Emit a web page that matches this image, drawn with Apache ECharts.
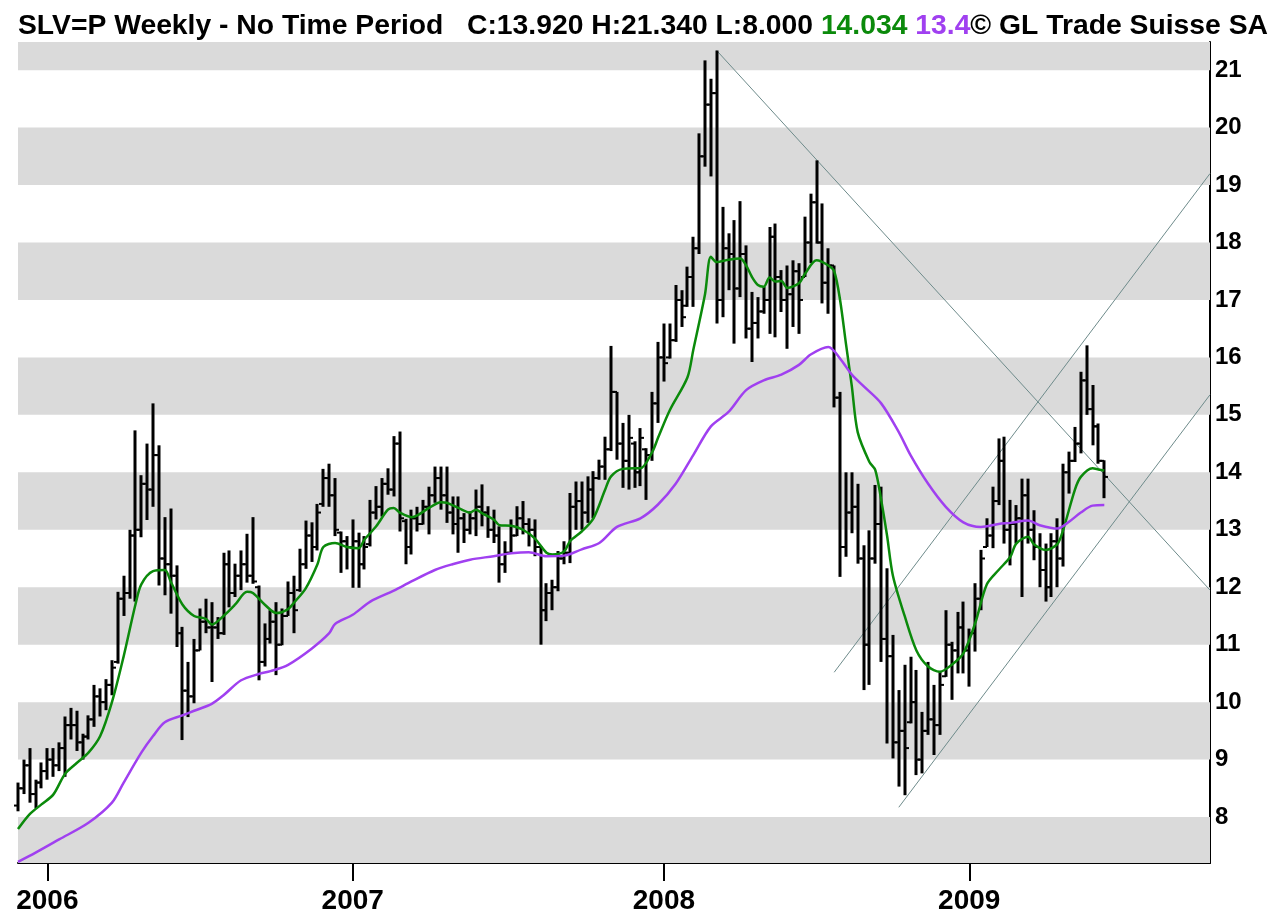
<!DOCTYPE html>
<html>
<head>
<meta charset="utf-8">
<script src="https://cdn.jsdelivr.net/npm/echarts@6/dist/echarts.min.js"></script>
<style>
  html, body { margin: 0; padding: 0; background: #fff; }
  #chart { width: 1276px; height: 915px; }
</style>
</head>
<body>
<div id="chart"></div>
<script>
// weekly bars, first week 2005-11-28, axis runs on to Oct 2009 for the trend lines
const firstWeek = '2005-11-28';
const weekSlots = 204;

const opens = [
  8.2, 8.5, 8.9, 8.4, 8.6, 8.8, 9.0, 8.9, 9.2, 9.6,
  9.6, 9.3, 9.4, 9.7, 10.1, 10.0, 10.3, 10.7, 11.8, 11.9,
  12.9, 13.0, 13.8, 13.7, 14.3, 12.5, 12.4, 12.2, 11.2, 10.2,
  10.1, 10.9, 11.4, 11.3, 11.3, 11.2, 12.4, 11.9, 12.2, 12.4,
  12.2, 12.0, 10.7, 11.1, 11.4, 11.0, 11.5, 11.9, 11.95, 12.4,
  12.9, 12.7, 13.45, 13.9, 13.6, 12.95, 12.8, 12.7, 12.8, 12.4,
  12.75, 13.3, 13.4, 13.8, 13.7, 14.5, 13.15, 12.7, 13.2, 13.1,
  13.4, 13.6, 13.9, 13.6, 13.3, 13.1, 13.2, 13.0, 13.2, 13.4,
  13.3, 13.0, 12.9, 12.4, 12.6, 12.9, 13.2, 13.1, 13.0, 12.7,
  11.6, 11.9, 12.0, 12.5, 12.6, 13.4, 13.5, 13.3, 13.7, 13.9,
  14.1, 14.4, 15.4, 14.5, 14.2, 14.5, 14.0, 14.4, 14.3, 15.2,
  16.0, 16.0, 16.3, 17.0, 16.9, 17.4, 17.9, 19.5, 20.4, 20.6,
  17.0, 17.9, 17.8, 17.2, 17.8, 16.5, 16.6, 16.8, 17.0, 18.1,
  17.4, 17.0, 17.1, 17.5, 17.4, 18.0, 18.7, 18.0, 17.3, 17.6,
  15.3, 12.7, 13.3, 13.4, 12.5, 11.0, 12.5, 13.1, 11.1, 10.8,
  9.3, 9.5, 9.65, 10.0, 9.0, 9.5, 9.7, 9.6, 10.45, 11.0,
  10.9, 11.3, 10.9, 11.2, 11.8, 12.7, 12.9, 13.5, 14.2, 13.0,
  13.1, 13.2, 13.6, 13.0, 12.7, 12.3, 12.0, 12.8, 12.5, 14.0,
  14.2, 14.5, 15.6, 15.1, 14.8, 14.2
];
const highs = [
  8.6, 9.0, 9.2, 8.65, 8.95, 9.2, 9.2, 9.3, 9.75, 9.9,
  9.85, 9.45, 9.77, 10.3, 10.24, 10.4, 10.73, 11.92, 12.2, 13.0,
  14.73, 13.95, 14.5, 15.2, 14.47, 13.22, 13.37, 12.38, 11.31, 10.7,
  11.1, 11.63, 11.8, 11.74, 11.48, 12.6, 12.64, 12.41, 12.64, 12.93,
  13.22, 12.03, 11.37, 11.6, 11.74, 11.63, 12.1, 12.2, 12.67, 13.16,
  13.13, 13.45, 14.06, 14.15, 13.9, 12.97, 12.89, 13.18, 12.95, 12.89,
  13.52, 13.76, 13.9, 14.07, 14.63, 14.71, 13.19, 13.35, 13.4, 13.52,
  13.75, 14.1, 14.1, 14.1, 13.58, 13.58, 13.29, 13.32, 13.7, 13.79,
  13.41, 13.35, 13.06, 12.8, 13.18, 13.41, 13.5, 13.2, 13.18, 12.71,
  12.07, 12.13, 12.63, 12.8, 13.64, 13.84, 13.84, 13.93, 14.02, 14.22,
  14.62, 16.2, 15.4, 14.86, 15.0, 14.54, 14.77, 14.42, 15.4, 16.27,
  16.59, 16.59, 17.26, 17.17, 17.58, 18.1, 19.9, 21.17, 20.85, 21.34,
  18.62, 18.16, 18.39, 18.72, 17.95, 17.14, 17.05, 17.23, 18.27, 18.33,
  17.52, 17.6, 17.69, 17.64, 18.45, 18.85, 19.43, 18.68, 17.9, 17.6,
  15.4, 14.0, 14.0, 13.8, 12.73, 12.99, 13.78, 13.75, 12.33, 11.17,
  10.21, 10.65, 10.79, 10.56, 9.83, 10.7, 10.3, 10.53, 11.6, 11.05,
  11.57, 11.75, 11.28, 12.07, 12.65, 13.2, 13.75, 14.59, 14.62, 13.52,
  13.43, 13.89, 13.89, 13.34, 12.94, 12.76, 12.94, 13.2, 14.15, 14.36,
  14.79, 15.75, 16.21, 15.52, 14.85, 14.21
];
const lows = [
  8.1, 8.4, 8.25, 8.15, 8.5, 8.65, 8.7, 8.8, 8.7, 9.35,
  9.15, 9.0, 9.35, 9.57, 9.75, 9.86, 10.12, 10.67, 11.5, 11.8,
  11.75, 12.87, 13.17, 13.4, 12.03, 11.86, 11.54, 10.96, 9.34, 9.74,
  9.98, 10.9, 11.2, 10.35, 11.1, 11.17, 11.65, 11.83, 11.95, 12.08,
  12.06, 10.38, 10.62, 11.02, 10.47, 10.99, 11.5, 11.2, 11.92, 12.32,
  12.44, 12.64, 13.4, 13.4, 12.89, 12.25, 12.31, 11.99, 11.99, 12.31,
  12.71, 13.18, 13.23, 13.61, 13.58, 12.97, 12.4, 12.57, 12.97, 13.09,
  12.92, 13.47, 13.35, 13.12, 12.92, 12.6, 12.77, 12.92, 12.89, 13.06,
  12.86, 12.77, 12.08, 12.25, 12.6, 12.89, 12.92, 12.71, 12.54, 11.0,
  11.41, 11.6, 11.93, 12.4, 12.42, 13.0, 13.0, 13.12, 13.2, 13.87,
  13.87, 14.37, 14.22, 13.73, 13.7, 13.73, 13.76, 13.52, 14.2, 14.86,
  15.58, 15.98, 16.27, 16.53, 16.88, 16.88, 17.8, 19.32, 19.15, 16.59,
  16.7, 17.17, 16.24, 17.05, 16.33, 15.92, 16.33, 16.76, 16.41, 16.35,
  16.79, 16.15, 16.53, 16.41, 17.4, 17.64, 17.98, 16.94, 16.76, 15.13,
  12.18, 12.53, 12.94, 12.41, 10.21, 10.3, 12.41, 10.7, 9.28, 9.02,
  8.53, 8.38, 9.63, 8.73, 8.76, 9.43, 9.08, 9.43, 10.44, 10.04,
  10.5, 10.5, 10.27, 10.88, 11.6, 12.7, 12.68, 13.43, 12.76, 12.38,
  12.76, 11.83, 12.76, 12.47, 12.0, 11.75, 11.83, 12.0, 12.36, 13.63,
  14.18, 14.33, 15.0, 14.47, 14.15, 13.55
];
const closes = [
  8.5, 8.9, 8.4, 8.6, 8.8, 9.0, 8.9, 9.2, 9.6, 9.6,
  9.3, 9.4, 9.7, 10.1, 10.0, 10.3, 10.6, 11.8, 11.9, 12.9,
  13.0, 13.8, 13.7, 14.3, 12.5, 12.4, 12.2, 11.2, 10.2, 10.1,
  10.9, 11.4, 11.3, 11.3, 11.2, 12.4, 11.9, 12.2, 12.4, 12.2,
  12.1, 10.7, 11.1, 11.4, 11.0, 11.5, 11.9, 11.6, 12.4, 12.9,
  12.7, 13.3, 13.9, 13.6, 13.0, 12.8, 12.7, 12.8, 12.4, 12.7,
  13.3, 13.4, 13.8, 13.7, 14.5, 13.2, 12.7, 13.2, 13.1, 13.4,
  13.6, 13.9, 13.6, 13.3, 13.1, 13.2, 13.0, 13.2, 13.4, 13.3,
  13.0, 12.9, 12.4, 12.6, 12.9, 13.2, 13.1, 13.0, 12.7, 11.6,
  11.9, 12.0, 12.5, 12.6, 13.4, 13.5, 13.3, 13.7, 13.9, 14.1,
  14.4, 15.4, 14.5, 14.2, 14.6, 14.0, 14.6, 14.3, 15.2, 16.0,
  15.9, 16.3, 17.0, 16.7, 17.4, 17.9, 19.5, 20.4, 20.6, 17.0,
  17.9, 17.8, 17.2, 17.8, 16.5, 16.6, 16.8, 17.0, 18.1, 17.4,
  17.0, 17.1, 17.5, 17.0, 18.0, 18.7, 18.0, 17.3, 17.6, 15.3,
  12.7, 13.3, 13.4, 12.5, 11.0, 12.5, 13.1, 11.1, 10.8, 9.3,
  9.5, 9.2, 10.0, 9.0, 9.5, 9.7, 9.6, 10.3, 11.0, 10.9,
  11.3, 10.9, 11.2, 11.8, 12.5, 12.9, 13.5, 14.2, 13.0, 13.1,
  13.2, 13.6, 13.0, 12.7, 12.3, 12.0, 12.8, 12.5, 14.0, 14.2,
  14.5, 15.6, 15.1, 14.8, 14.2, 13.92
];

// moving averages: [week index, value]
const fastAverage = [
  [0, 7.79], [2, 8.05], [4, 8.22], [6, 8.39], [8, 8.75], [10, 8.94], [12, 9.12], [14, 9.41],
  [16, 10.0], [18, 10.8], [20, 11.7], [21, 12.05], [23, 12.28], [25, 12.3], [26, 12.1], [28, 11.7],
  [30, 11.5], [32, 11.45], [33, 11.35], [35, 11.5], [37, 11.7], [39, 11.92], [40, 11.9], [42, 11.7],
  [44, 11.55], [46, 11.62], [47, 11.73], [49, 11.98], [51, 12.4], [52, 12.7], [54, 12.77], [56, 12.7],
  [58, 12.68], [59, 12.83], [61, 13.06], [63, 13.35], [64, 13.38], [65, 13.3], [67, 13.22], [68, 13.25],
  [70, 13.38], [72, 13.48], [73, 13.47], [75, 13.38], [77, 13.3], [78, 13.35], [79, 13.29], [81, 13.18],
  [82, 13.08], [84, 13.07], [86, 13.0], [88, 12.85], [90, 12.6], [91, 12.57], [93, 12.62], [94, 12.8],
  [96, 12.97], [98, 13.2], [100, 13.7], [101, 13.93], [103, 14.06], [105, 14.07], [106, 14.07], [108, 14.35],
  [109, 14.6], [111, 15.08], [114, 15.65], [115, 16.13], [117, 17.1], [118, 17.75], [119, 17.66], [121, 17.7],
  [123, 17.72], [124, 17.6], [125, 17.4], [126, 17.26], [127, 17.23], [128, 17.39], [129, 17.32], [130, 17.33],
  [131, 17.21], [133, 17.29], [134, 17.45], [136, 17.69], [138, 17.6], [139, 17.5], [140, 17.0], [141, 16.24],
  [142, 15.5], [143, 14.7], [145, 14.18], [146, 14.04], [147, 13.52], [148, 12.9], [149, 12.2], [151, 11.5],
  [153, 10.9], [155, 10.62], [157, 10.53], [159, 10.65], [161, 10.85], [163, 11.37], [165, 12.05], [167, 12.3],
  [169, 12.53], [170, 12.76], [172, 12.88], [173, 12.75], [175, 12.65], [177, 12.75], [178, 13.0], [180, 13.7],
  [181, 13.92], [183, 14.07], [184, 14.05], [185, 14.03]
];
const slowAverage = [
  [0, 7.22], [3, 7.38], [7, 7.61], [12, 7.9], [16, 8.25], [18, 8.6], [21, 9.12], [23, 9.41],
  [25, 9.65], [28, 9.77], [30, 9.85], [33, 9.97], [35, 10.12], [38, 10.38], [41, 10.49], [43, 10.54],
  [46, 10.65], [50, 10.93], [53, 11.2], [54, 11.36], [57, 11.52], [60, 11.75], [64, 11.94], [67, 12.1],
  [71, 12.3], [74, 12.4], [77, 12.48], [81, 12.54], [84, 12.59], [87, 12.61], [90, 12.54], [93, 12.55],
  [96, 12.66], [99, 12.77], [102, 13.05], [106, 13.2], [109, 13.44], [112, 13.8], [115, 14.3], [118, 14.8],
  [121, 15.05], [124, 15.43], [127, 15.6], [130, 15.7], [133, 15.87], [135, 16.05], [138, 16.18], [140, 15.98],
  [142, 15.7], [144, 15.5], [147, 15.2], [150, 14.7], [152, 14.3], [155, 13.8], [158, 13.4], [161, 13.13],
  [164, 13.05], [167, 13.1], [169, 13.12], [172, 13.16], [174, 13.08], [177, 13.02], [179, 13.14], [181, 13.3],
  [183, 13.42], [185, 13.43]
];

// hand-drawn trend lines: [week index, price]
const resistanceLine = [[119, 21.34], [203, 11.95]];
const channelUpper = [[139, 10.52], [203, 19.2]];
const channelLower = [[150, 8.17], [203, 15.35]];

const priceTicks = [8, 9, 10, 11, 12, 13, 14, 15, 16, 17, 18, 19, 20, 21];
const greyBandStarts = [7, 9, 11, 13, 15, 17, 19, 21];
const yMin = 7.2;
const yMax = 21.49;

const headerText = 'SLV=P Weekly - No Time Period   C:13.920 H:21.340 L:8.000 ';
const headerFast = '14.034 ';
const headerSlow = '13.4';
const headerCopy = '\u00a9 GL Trade Suisse SA';

const weeks = [];
let d = new Date(firstWeek + 'T00:00:00Z');
for (let i = 0; i < weekSlots; i++) {
  weeks.push(d.toISOString().slice(0, 10));
  d = new Date(d.getTime() + 7 * 86400000);
}
function yearStart(idx) {
  return idx > 0 && weeks[idx].slice(0, 4) !== weeks[idx - 1].slice(0, 4);
}

const bars = closes.map((c, i) => [i, opens[i], highs[i], lows[i], c]);
const bands = greyBandStarts.map((s) => [
  { yAxis: Math.max(s, yMin) },
  { yAxis: Math.min(s + 1, yMax) }
]);

function renderBar(params, api) {
  const i = api.value(0);
  const o = api.coord([i, api.value(1)]);
  const h = api.coord([i, api.value(2)]);
  const l = api.coord([i, api.value(3)]);
  const c = api.coord([i, api.value(4)]);
  const x = Math.round(h[0]);
  return {
    type: 'group',
    children: [
      { type: 'line', shape: { x1: x, y1: h[1], x2: x, y2: l[1] }, style: { stroke: '#000', lineWidth: 3 } },
      { type: 'line', shape: { x1: x - 4, y1: o[1], x2: x, y2: o[1] }, style: { stroke: '#000', lineWidth: 2 } },
      { type: 'line', shape: { x1: x, y1: c[1], x2: x + 4, y2: c[1] }, style: { stroke: '#000', lineWidth: 2 } }
    ]
  };
}

let myChart = echarts.init(document.getElementById('chart'));
var option;
option = {
  animation: false,
  backgroundColor: '#fff',
  title: {
    left: 13,
    top: 7,
    text: '{k|' + headerText + '}{g|' + headerFast + '}{p|' + headerSlow + '}{k|' + headerCopy + '}',
    textStyle: {
      rich: {
        k: { color: '#000', fontSize: 28.3, fontWeight: 'bold', fontFamily: 'Liberation Sans' },
        g: { color: '#0b8a0b', fontSize: 28.3, fontWeight: 'bold', fontFamily: 'Liberation Sans' },
        p: { color: '#a040f0', fontSize: 28.3, fontWeight: 'bold', fontFamily: 'Liberation Sans' }
      }
    }
  },
  grid: {
    left: 18,
    right: 66,
    top: 42,
    bottom: 52,
    containLabel: false
  },
  xAxis: {
    type: 'category',
    data: weeks,
    boundaryGap: false,
    axisLine: {
      onZero: false,
      lineStyle: { color: '#000', width: 2 }
    },
    axisTick: {
      show: true,
      length: 18,
      interval: (idx) => yearStart(idx),
      lineStyle: { color: '#000', width: 2 }
    },
    axisLabel: {
      interval: (idx) => yearStart(idx),
      formatter: (v) => v.slice(0, 4),
      color: '#000',
      fontSize: 28,
      fontWeight: 'bold',
      fontFamily: 'Liberation Sans',
      margin: 24
    },
    splitLine: { show: false }
  },
  yAxis: {
    type: 'value',
    position: 'right',
    min: yMin,
    max: yMax,
    axisLine: {
      show: true,
      onZero: false,
      lineStyle: { color: '#000', width: 2 }
    },
    axisTick: { show: false },
    axisLabel: {
      customValues: priceTicks,
      color: '#000',
      fontSize: 24,
      fontWeight: 'bold',
      fontFamily: 'Liberation Sans',
      margin: 5
    },
    splitLine: { show: false }
  },
  series: [
    {
      name: 'bands',
      type: 'line',
      data: [],
      z: 0,
      silent: true,
      markArea: {
        silent: true,
        itemStyle: { color: '#dadada' },
        data: bands
      }
    },
    {
      name: 'resistance',
      type: 'line',
      data: resistanceLine,
      showSymbol: false,
      z: 1,
      lineStyle: { color: '#6e8b8b', width: 1 }
    },
    {
      name: 'channel top',
      type: 'line',
      data: channelUpper,
      showSymbol: false,
      z: 1,
      lineStyle: { color: '#6e8b8b', width: 1 }
    },
    {
      name: 'channel bottom',
      type: 'line',
      data: channelLower,
      showSymbol: false,
      z: 1,
      lineStyle: { color: '#6e8b8b', width: 1 }
    },
    {
      name: 'price',
      type: 'custom',
      renderItem: renderBar,
      data: bars,
      encode: { x: 0, y: [1, 2, 3, 4] },
      z: 3
    },
    {
      name: 'fast',
      type: 'line',
      data: fastAverage,
      showSymbol: false,
      smooth: 0.3,
      z: 4,
      lineStyle: { color: '#0b8a0b', width: 2.5 }
    },
    {
      name: 'slow',
      type: 'line',
      data: slowAverage,
      showSymbol: false,
      smooth: 0.3,
      z: 4,
      lineStyle: { color: '#a040f0', width: 2.5 }
    }
  ]
};
option && myChart.setOption(option);
window.addEventListener('resize', () => {
  myChart.resize();
});
</script>
</body>
</html>
